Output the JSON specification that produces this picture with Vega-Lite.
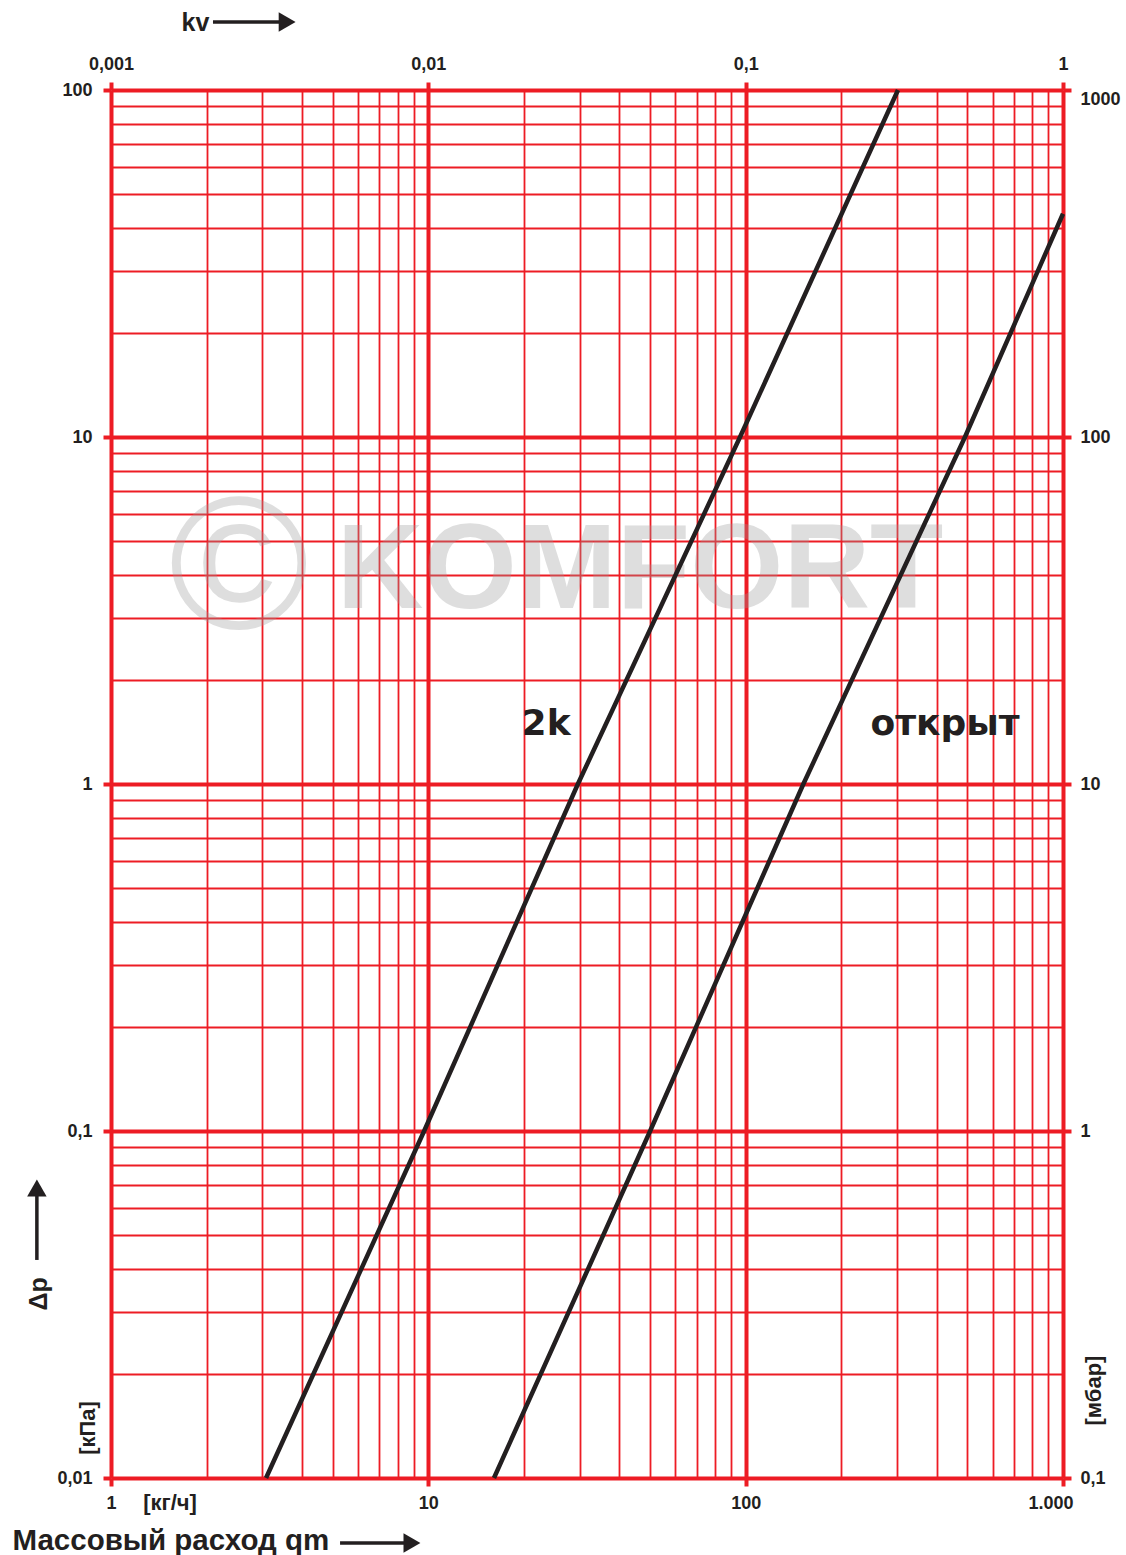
{
  "$schema": "https://vega.github.io/schema/vega-lite/v6.json",
  "autosize": "none",
  "width": 952,
  "height": 1388,
  "padding": {"left": 111, "top": 90, "right": 63, "bottom": 77},
  "background": "white",
  "config": {"view": {"stroke": null}},
  "datasets": {
    "curves": [
      {"series": "2k", "qm": 3.08, "dp": 0.01},
      {"series": "2k", "qm": 9.7, "dp": 0.1},
      {"series": "2k", "qm": 29.6, "dp": 1},
      {"series": "2k", "qm": 96, "dp": 10},
      {"series": "2k", "qm": 302, "dp": 100},
      {"series": "открыт", "qm": 16.1, "dp": 0.01},
      {"series": "открыт", "qm": 50, "dp": 0.1},
      {"series": "открыт", "qm": 152, "dp": 1},
      {"series": "открыт", "qm": 491, "dp": 10},
      {"series": "открыт", "qm": 1000, "dp": 44}
    ],
    "curveLabels": [
      {"text": "2k", "qm": 23.5, "dp": 1.38},
      {"text": "открыт", "qm": 425, "dp": 1.38}
    ],
    "units": [
      {"text": "[кг/ч]", "qm": 1.535, "dp": 0.00847, "angle": 0},
      {"text": "[кПа]", "qm": 0.846, "dp": 0.01394, "angle": 270}
    ],
    "arrowShafts": [
      {"axis": "qm", "qm": 5.27, "qm2": 8.7, "dp": 0.0065, "dp2": 0.0065},
      {"axis": "kv", "qm": 2.096, "qm2": 3.5, "dp": 157, "dp2": 157},
      {"axis": "dp", "qm": 0.584, "qm2": 0.584, "dp": 0.0425, "dp2": 0.066}
    ],
    "arrowHeads": [
      {"axis": "qm", "dir": "right", "qm": 8.88, "dp": 0.0065},
      {"axis": "kv", "dir": "right", "qm": 3.59, "dp": 157},
      {"axis": "dp", "dir": "up", "qm": 0.584, "dp": 0.0685}
    ],
    "markC": [{"text": "©", "qm": 2.53, "dp": 4.08}],
    "markK": [{"text": "KOMFORT", "qm": 46.5, "dp": 4.08}]
  },
  "resolve": {"axis": {"x": "independent", "y": "independent"}},
  "layer": [
    {
      "data": {"name": "markC"},
      "mark": {"type": "text", "font": "Liberation Sans", "fontSize": 190, "fontWeight": "normal", "color": "#9a9a9a", "opacity": 0.32, "align": "center", "baseline": "middle"},
      "encoding": {
        "x": {"field": "qm", "type": "quantitative", "scale": {"type": "log", "domain": [1, 1000], "nice": false}, "axis": null},
        "y": {"field": "dp", "type": "quantitative", "scale": {"type": "log", "domain": [0.01, 100], "nice": false}, "axis": null},
        "text": {"field": "text"}
      }
    },
    {
      "data": {"name": "markK"},
      "mark": {"type": "text", "font": "Liberation Sans", "fontSize": 120, "fontWeight": "bold", "color": "#9a9a9a", "opacity": 0.32, "align": "center", "baseline": "middle"},
      "encoding": {
        "x": {"field": "qm", "type": "quantitative", "scale": {"type": "log", "domain": [1, 1000], "nice": false}, "axis": null},
        "y": {"field": "dp", "type": "quantitative", "scale": {"type": "log", "domain": [0.01, 100], "nice": false}, "axis": null},
        "text": {"field": "text"}
      }
    },
    {
      "data": {"name": "curves"},
      "mark": {"type": "line", "color": "#231f20", "strokeWidth": 4.5, "clip": false},
      "encoding": {
        "x": {
          "field": "qm", "type": "quantitative",
          "scale": {"type": "log", "domain": [1, 1000], "nice": false},
          "axis": {
            "orient": "bottom",
            "values": [1,2,3,4,5,6,7,8,9,10,20,30,40,50,60,70,80,90,100,200,300,400,500,600,700,800,900,1000],
            "grid": true,
            "gridColor": "#ed1c24",
            "gridOpacity": 1,
            "gridWidth": {"condition": {"test": "abs(log(datum.value)/LN10 - round(log(datum.value)/LN10)) < 0.001", "value": 4}, "value": 1.8},
            "domain": false,
            "ticks": true,
            "tickColor": "#ed1c24",
            "tickWidth": 4,
            "tickSize": 8,
            "tickOpacity": {"condition": {"test": "abs(log(datum.value)/LN10 - round(log(datum.value)/LN10)) < 0.001", "value": 1}, "value": 0},
            "labelExpr": "datum.value == 1 ? '1' : datum.value == 10 ? '10' : datum.value == 100 ? '100' : datum.value == 1000 ? '1.000' : ''",
            "labelFlush": false,
            "labelOverlap": false,
            "labelAlign": {"condition": {"test": "datum.value == 1000", "value": "right"}, "value": "center"},
            "labelOffset": {"condition": {"test": "datum.value == 1000", "value": 10}, "value": 0},
            "labelFont": "Liberation Sans",
            "labelFontWeight": "bold",
            "labelFontSize": 18,
            "labelColor": "#231f20",
            "labelPadding": 8,
            "title": "Массовый расход qm",
            "titleFont": "Liberation Sans",
            "titleFontWeight": "bold",
            "titleFontSize": 29.5,
            "titleColor": "#231f20",
            "titleAlign": "left",
            "titleBaseline": "middle",
            "titleAnchor": "start",
            "titleX": -99,
            "titleY": 62
          }
        },
        "y": {
          "field": "dp", "type": "quantitative",
          "scale": {"type": "log", "domain": [0.01, 100], "nice": false},
          "axis": {
            "orient": "left",
            "values": [0.01,0.02,0.03,0.04,0.05,0.06,0.07,0.08,0.09,0.1,0.2,0.3,0.4,0.5,0.6,0.7,0.8,0.9,1,2,3,4,5,6,7,8,9,10,20,30,40,50,60,70,80,90,100],
            "grid": true,
            "gridColor": "#ed1c24",
            "gridOpacity": 1,
            "gridWidth": {"condition": {"test": "abs(log(datum.value)/LN10 - round(log(datum.value)/LN10)) < 0.001", "value": 4}, "value": 1.8},
            "domain": false,
            "ticks": true,
            "tickColor": "#ed1c24",
            "tickWidth": 4,
            "tickSize": 8,
            "tickOpacity": {"condition": {"test": "abs(log(datum.value)/LN10 - round(log(datum.value)/LN10)) < 0.001", "value": 1}, "value": 0},
            "labelExpr": "abs(datum.value - 0.01) < 1e-9 ? '0,01' : abs(datum.value - 0.1) < 1e-9 ? '0,1' : datum.value == 1 ? '1' : datum.value == 10 ? '10' : datum.value == 100 ? '100' : ''",
            "labelFlush": false,
            "labelOverlap": false,
            "labelFont": "Liberation Sans",
            "labelFontWeight": "bold",
            "labelFontSize": 18,
            "labelColor": "#231f20",
            "labelPadding": 11,
            "title": "Δp",
            "titleFont": "Liberation Sans",
            "titleFontWeight": "bold",
            "titleFontSize": 25,
            "titleColor": "#231f20",
            "titleAngle": -90,
            "titleAlign": "left",
            "titleBaseline": "middle",
            "titleAnchor": "start",
            "titleX": -73,
            "titleY": 1220
          }
        },
        "detail": {"field": "series"}
      }
    },
    {
      "data": {"name": "curveLabels"},
      "mark": {"type": "text", "font": "DejaVu Sans", "fontWeight": "bold", "fontSize": 36, "color": "#231f20", "align": "center", "baseline": "alphabetic"},
      "encoding": {
        "x": {
          "field": "qm", "type": "quantitative",
          "scale": {"type": "log", "domain": [1, 1000], "nice": false},
          "axis": {
            "orient": "top",
            "values": [1, 10, 100, 1000],
            "grid": false,
            "domain": false,
            "ticks": true,
            "tickColor": "#ed1c24",
            "tickWidth": 4,
            "tickSize": 8,
            "labelExpr": "datum.value == 1 ? '0,001' : datum.value == 10 ? '0,01' : datum.value == 100 ? '0,1' : '1'",
            "labelFlush": false,
            "labelOverlap": false,
            "labelFont": "Liberation Sans",
            "labelFontWeight": "bold",
            "labelFontSize": 18,
            "labelColor": "#231f20",
            "labelPadding": 9,
            "title": "kv",
            "titleFont": "Liberation Sans",
            "titleFontWeight": "bold",
            "titleFontSize": 25,
            "titleColor": "#231f20",
            "titleAlign": "left",
            "titleBaseline": "middle",
            "titleAnchor": "start",
            "titleX": 70,
            "titleY": -68
          }
        },
        "y": {
          "field": "dp", "type": "quantitative",
          "scale": {"type": "log", "domain": [0.01, 100], "nice": false},
          "axis": {
            "orient": "right",
            "values": [0.01, 0.1, 1, 10, 100],
            "grid": false,
            "domain": false,
            "ticks": true,
            "tickColor": "#ed1c24",
            "tickWidth": 4,
            "tickSize": 8,
            "labelExpr": "abs(datum.value - 0.01) < 1e-9 ? '0,1' : abs(datum.value - 0.1) < 1e-9 ? '1' : datum.value == 1 ? '10' : datum.value == 10 ? '100' : '1000'",
            "labelFlush": false,
            "labelOverlap": false,
            "labelOffset": {"condition": {"test": "datum.value == 100", "value": 9}, "value": 0},
            "labelFont": "Liberation Sans",
            "labelFontWeight": "bold",
            "labelFontSize": 18,
            "labelColor": "#231f20",
            "labelPadding": 9,
            "title": "[мбар]",
            "titleFont": "Liberation Sans",
            "titleFontWeight": "bold",
            "titleFontSize": 22,
            "titleColor": "#231f20",
            "titleAngle": -90,
            "titleAlign": "left",
            "titleBaseline": "middle",
            "titleAnchor": "start",
            "titleX": 30,
            "titleY": 1335
          }
        },
        "text": {"field": "text"}
      }
    },
    {
      "data": {"name": "units"},
      "mark": {"type": "text", "font": "Liberation Sans", "fontWeight": "bold", "fontSize": 22, "color": "#231f20", "align": "center", "baseline": "middle"},
      "encoding": {
        "x": {"field": "qm", "type": "quantitative", "scale": {"type": "log", "domain": [1, 1000], "nice": false}, "axis": null},
        "y": {"field": "dp", "type": "quantitative", "scale": {"type": "log", "domain": [0.01, 100], "nice": false}, "axis": null},
        "text": {"field": "text"},
        "angle": {"field": "angle", "type": "quantitative", "scale": null}
      }
    },
    {
      "data": {"name": "arrowShafts"},
      "mark": {"type": "rule", "color": "#231f20", "strokeWidth": 3.5, "clip": false},
      "encoding": {
        "x": {"field": "qm", "type": "quantitative", "scale": {"type": "log", "domain": [1, 1000], "nice": false}, "axis": null},
        "x2": {"field": "qm2"},
        "y": {"field": "dp", "type": "quantitative", "scale": {"type": "log", "domain": [0.01, 100], "nice": false}, "axis": null},
        "y2": {"field": "dp2"}
      }
    },
    {
      "data": {"name": "arrowHeads"},
      "mark": {"type": "point", "filled": true, "color": "#231f20", "opacity": 1, "size": 380, "clip": false},
      "encoding": {
        "x": {"field": "qm", "type": "quantitative", "scale": {"type": "log", "domain": [1, 1000], "nice": false}, "axis": null},
        "y": {"field": "dp", "type": "quantitative", "scale": {"type": "log", "domain": [0.01, 100], "nice": false}, "axis": null},
        "shape": {"field": "dir", "type": "nominal", "scale": {"domain": ["right", "up"], "range": ["triangle-right", "triangle-up"]}, "legend": null}
      }
    }
  ]
}
